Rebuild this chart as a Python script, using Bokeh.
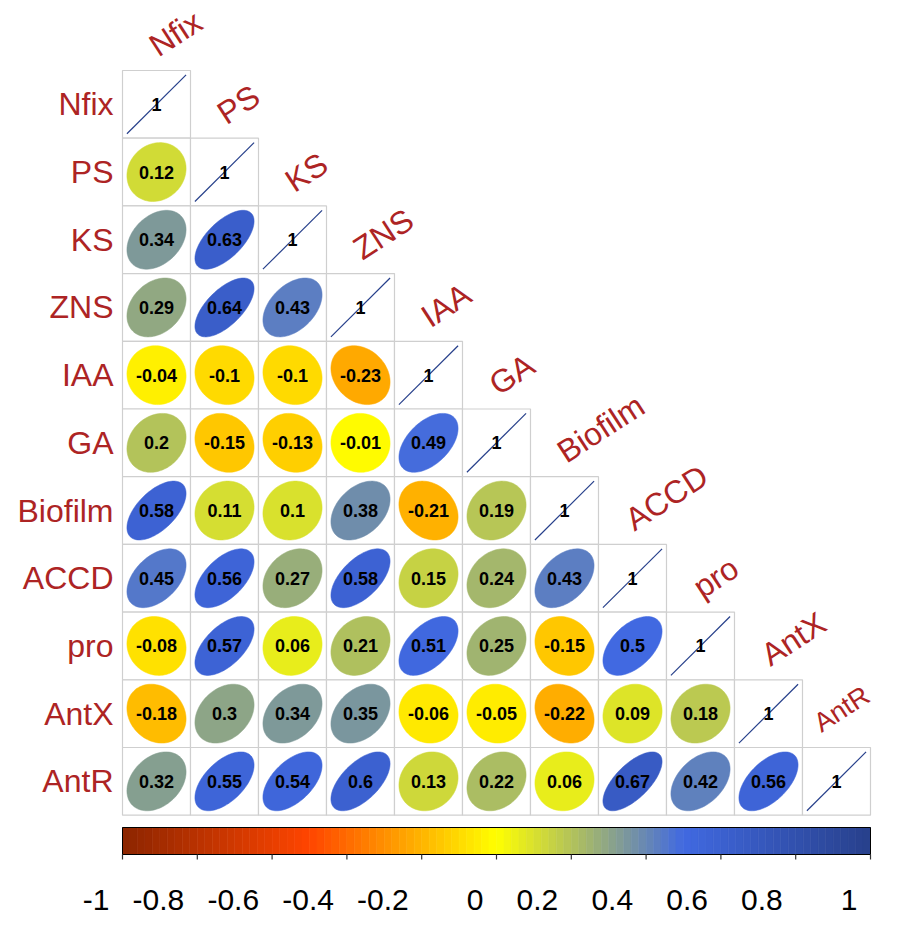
import numpy as np
from bokeh.plotting import figure
from bokeh.models import Range1d, ColumnDataSource
from bokeh.core.properties import value
from bokeh.embed import file_html
from bokeh.resources import INLINE

# ---------------- data ----------------
variables = ["Nfix", "PS", "KS", "ZNS", "IAA", "GA", "Biofilm", "ACCD", "pro", "AntX", "AntR"]
r_Nfix    = [1]
r_PS      = [0.12, 1]
r_KS      = [0.34, 0.63, 1]
r_ZNS     = [0.29, 0.64, 0.43, 1]
r_IAA     = [-0.04, -0.1, -0.1, -0.23, 1]
r_GA      = [0.2, -0.15, -0.13, -0.01, 0.49, 1]
r_Biofilm = [0.58, 0.11, 0.1, 0.38, -0.21, 0.19, 1]
r_ACCD    = [0.45, 0.56, 0.27, 0.58, 0.15, 0.24, 0.43, 1]
r_pro     = [-0.08, 0.57, 0.06, 0.21, 0.51, 0.25, -0.15, 0.5, 1]
r_AntX    = [-0.18, 0.3, 0.34, 0.35, -0.06, -0.05, -0.22, 0.09, 0.18, 1]
r_AntR    = [0.32, 0.55, 0.54, 0.6, 0.13, 0.22, 0.06, 0.67, 0.42, 0.56, 1]
rows = [r_Nfix, r_PS, r_KS, r_ZNS, r_IAA, r_GA, r_Biofilm, r_ACCD, r_pro, r_AntX, r_AntR]

colorbar_ticks = [-1, -0.8, -0.6, -0.4, -0.2, 0, 0.2, 0.4, 0.6, 0.8, 1]
colorbar_labels = ["-1", "-0.8", "-0.6", "-0.4", "-0.2", "0", "0.2", "0.4", "0.6", "0.8", "1"]

# palette stops (orangered4 -> orangered -> yellow -> royalblue -> royalblue4)
stop_vals = [-1.0, -0.5, 0.0, 0.5, 1.0]
stop_rgb = [(139, 37, 0), (255, 69, 0), (255, 255, 0), (65, 105, 225), (39, 64, 139)]


def corr_color(v):
    r = np.interp(v, stop_vals, [c[0] for c in stop_rgb])
    g = np.interp(v, stop_vals, [c[1] for c in stop_rgb])
    b = np.interp(v, stop_vals, [c[2] for c in stop_rgb])
    return "#%02x%02x%02x" % (int(round(r)), int(round(g)), int(round(b)))


def fmt(v):
    return ("%g" % round(v, 2))


# ---------------- figure ----------------
W, H = 883, 917
sx, sy = 68.0, 67.7
x0 = 0.5 - 122 / sx
y1 = 11.5 + 70 / sy
p = figure(width=W, height=H, x_range=Range1d(x0, x0 + W / sx), y_range=Range1d(y1 - H / sy, y1),
           output_backend="svg", toolbar_location=None, min_border=0,
           x_axis_location=None, y_axis_location=None)
p.grid.visible = False
p.outline_line_color = None
p.background_fill_color = "white"

n = len(variables)
FONT = "Liberation Sans"
LABEL_COLOR = "#AD2424"

# cells
cx, cy = [], []
ell_xs, ell_ys, ell_col = [], [], []
txt_x, txt_y, txt = [], [], []
diag_x0, diag_y0, diag_x1, diag_y1, diag_col = [], [], [], [], []
k = np.linspace(0, 2 * np.pi, 99)
sc = 0.435
for i, row in enumerate(rows):
    yc = n - i
    for j, v in enumerate(row):
        xc = j + 1
        cx.append(xc)
        cy.append(yc)
        txt_x.append(xc)
        txt_y.append(yc)
        txt.append(fmt(v))
        if i == j:
            diag_x0.append(xc - sc)
            diag_y0.append(yc - sc)
            diag_x1.append(xc + sc)
            diag_y1.append(yc + sc)
            diag_col.append(corr_color(v))
        else:
            a = np.arccos(v)
            ell_xs.append(xc + sc * np.cos(k + a / 2))
            ell_ys.append(yc + sc * np.cos(k - a / 2))
            ell_col.append(corr_color(v))

p.rect(x=cx, y=cy, width=1, height=1, fill_color="white", line_color="#CFCFCF", line_width=1.2)
p.patches(xs=ell_xs, ys=ell_ys, fill_color=ell_col, line_color=ell_col, line_width=0.5)
p.segment(x0=diag_x0, y0=diag_y0, x1=diag_x1, y1=diag_y1, line_color=diag_col, line_width=1.2)
p.text(x=txt_x, y=txt_y, text=txt, text_font=value(FONT), text_font_style="bold",
       text_font_size="18px", text_align="center", text_baseline="middle", text_color="black")

# row labels
p.text(x=[0.5 - 9 / sx] * n, y=[n - i for i in range(n)], text=variables, text_font=value(FONT),
       text_font_size="32px", text_align="right", text_baseline="middle", text_color=LABEL_COLOR)
# top labels (rotated); the last one is nudged/shrunk slightly so it stays inside the canvas
top_x = [j + 1 - 4 / sx for j in range(n)]
top_y = [n - j + 0.5 + 22 / sy for j in range(n)]
top_size = ["32px"] * n
top_x[-1] -= 16 / sx
top_size[-1] = "27px"
top_src = ColumnDataSource(dict(x=top_x, y=top_y, text=variables, size=top_size))
p.text(x="x", y="y", text="text", text_font_size="size", source=top_src,
       text_font=value(FONT), text_align="left", text_baseline="alphabetic",
       angle=np.deg2rad(33), text_color=LABEL_COLOR)

# colorbar
cb_top = y1 - (827 / sy)
cb_bot = y1 - (854 / sy)
nb = 100
edges = np.linspace(-1, 1, nb + 1)
mids = (edges[:-1] + edges[1:]) / 2
to_x = lambda v: 6 + 5.5 * np.asarray(v)
bar_cols = [corr_color(m) for m in mids]
p.quad(left=to_x(edges[:-1]), right=to_x(edges[1:]), bottom=cb_bot, top=cb_top,
       fill_color=bar_cols, line_color=bar_cols, line_width=0.6)
p.quad(left=[to_x(-1)], right=[to_x(1)], bottom=[cb_bot], top=[cb_top], fill_color=None,
       line_color="black", line_width=1)
tx = to_x(colorbar_ticks)
p.segment(x0=tx, y0=[cb_bot] * len(tx), x1=tx, y1=[cb_bot - 5 / sy] * len(tx), line_color="#333333",
          line_width=1.2)
p.text(x=tx - 13 / sx, y=[y1 - 899 / sy] * len(tx), text=colorbar_labels, text_font=value(FONT),
       text_font_size="30px", text_align="right", text_baseline="middle", text_color="black")

open("out.html", "w").write(file_html(p, INLINE))
